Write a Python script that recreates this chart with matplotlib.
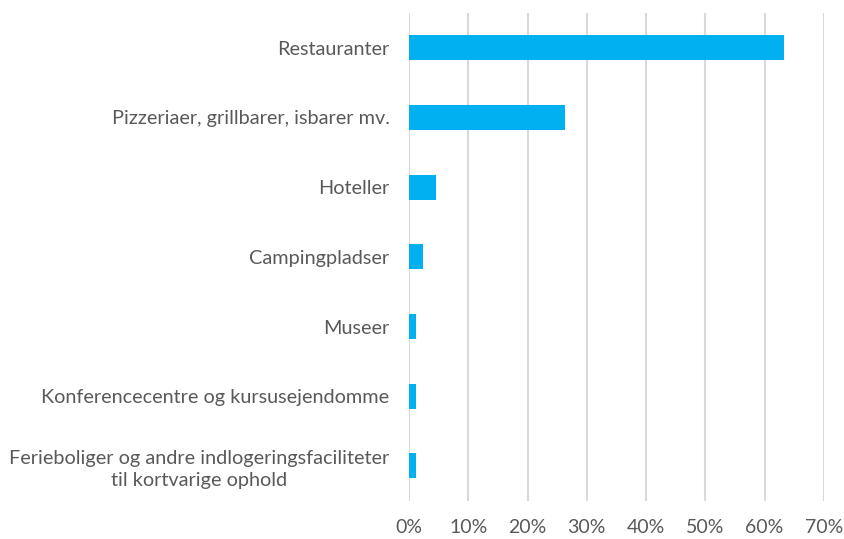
import matplotlib
matplotlib.use("Agg")
import matplotlib.pyplot as plt
from matplotlib.ticker import FuncFormatter

categories = [
    "Restauranter",
    "Pizzeriaer, grillbarer, isbarer mv.",
    "Hoteller",
    "Campingpladser",
    "Museer",
    "Konferencecentre og kursusejendomme",
    "Ferieboliger og andre indlogeringsfaciliteter\ntil kortvarige ophold",
]
values = [0.632, 0.264, 0.046, 0.024, 0.012, 0.012, 0.012]
xticks = [0, 0.1, 0.2, 0.3, 0.4, 0.5, 0.6, 0.7]

plt.rcParams['font.family'] = ['Lato', 'DejaVu Sans']
fig = plt.figure(figsize=(8.45, 5.39), dpi=100)
ax = fig.add_axes([0.484, 0.071, 0.491, 0.905])

y = list(range(len(categories)))
ax.barh(y, values, height=0.36, color="#00b0f0", zorder=3)
ax.set_ylim(len(categories) - 0.5, -0.5)
ax.set_xlim(0, 0.7)
ax.set_xticks(xticks)
ax.xaxis.set_major_formatter(FuncFormatter(lambda v, p: f"{v*100:.0f}%"))
ax.set_yticks(y)
ax.set_yticklabels(categories, fontsize=14.3, color="#595959", ha="right",
                   multialignment="center", linespacing=1.3)
ax.tick_params(axis="x", labelsize=14, labelcolor="#595959", length=0, pad=13)
ax.tick_params(axis="y", length=0, pad=14)
ax.grid(axis="x", color="#d9d9d9", linewidth=1.5, zorder=0)
for s in ax.spines.values():
    s.set_visible(False)

fig.savefig("out.png", dpi=100, facecolor="white")
